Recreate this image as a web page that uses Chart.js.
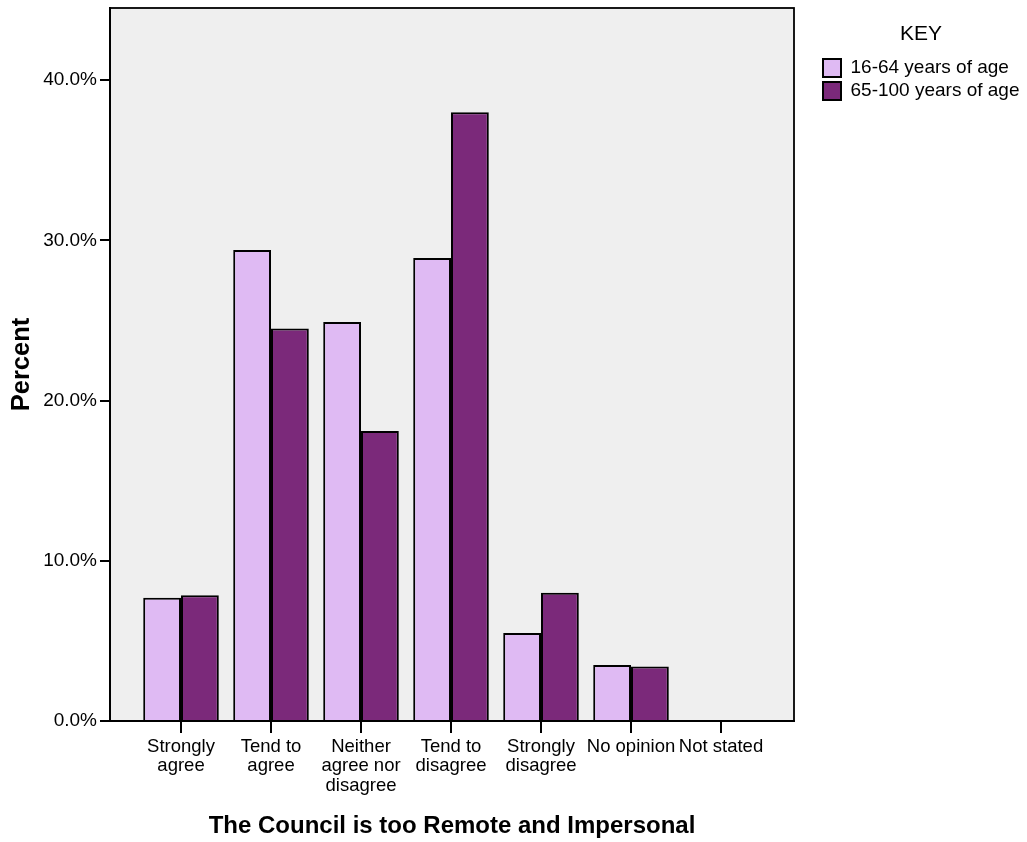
<!DOCTYPE html>
<html>
<head>
<meta charset="utf-8">
<script src="https://cdn.jsdelivr.net/npm/chart.js@4"></script>
<style>
  body { margin: 0; background: #fff; }
  #wrap { width: 1027px; height: 842px; }
</style>
</head>
<body>
<div id="wrap"><canvas id="myChart"></canvas></div>
<script>
const categories = [
    ['Strongly', 'agree'],
    ['Tend to', 'agree'],
    ['Neither', 'agree nor', 'disagree'],
    ['Tend to', 'disagree'],
    ['Strongly', 'disagree'],
    'No opinion',
    'Not stated'
];
const age16to64 = [7.7, 29.4, 24.9, 28.9, 5.5, 3.5, 0];
const age65to100 = [7.85, 24.5, 18.1, 38.0, 8.0, 3.4, 0];
const yTicks = [0, 10, 20, 30, 40];

Chart.defaults.font.family = "'Liberation Sans', Arial, sans-serif";
Chart.defaults.color = '#000';

// grey plot box with a frame, like SPSS
const plotBox = {
    id: 'plotBox',
    beforeDraw(chart) {
        const {ctx, chartArea: a} = chart;
        ctx.save();
        ctx.fillStyle = '#efefef';
        ctx.fillRect(a.left, a.top, a.right - a.left, a.bottom - a.top);
        ctx.strokeStyle = '#000';
        ctx.lineWidth = 1.8;
        ctx.strokeRect(a.left, a.top, a.right - a.left, a.bottom - a.top);
        ctx.restore();
    }
};

// push the legend a bit away from the plot
const legendShift = {
    id: 'legendShift',
    beforeInit(chart) {
        const fit = chart.legend.fit;
        chart.legend.fit = function () {
            fit.call(this);
            this.width = 233;
        };
    },
    afterLayout(chart) {
        chart.legend.left = chart.chartArea.right + 25;
        chart.legend.width = 204;
    }
};

const noPad = (scale) => {
    scale.paddingTop = 0;
    scale.paddingBottom = 0;
    scale.paddingLeft = 0;
    scale.paddingRight = 0;
};

const toPoints = (arr) => arr.map((v, i) => ({x: i, y: v}));

const cht = document.getElementById('myChart').getContext('2d');
const myChart = new Chart(cht, {
    type: 'bar',
    data: {
        datasets: [{
            label: '16-64 years of age',
            data: toPoints(age16to64),
            backgroundColor: '#dfbaf3',
            borderColor: '#000',
            borderWidth: 2
        }, {
            label: '65-100 years of age',
            data: toPoints(age65to100),
            backgroundColor: '#7b297a',
            borderColor: '#000',
            borderWidth: 2
        }]
    },
    options: {
        responsive: true,
        maintainAspectRatio: false,
        animation: false,
        devicePixelRatio: 1,
        categoryPercentage: 0.84,
        barPercentage: 1,
        layout: { padding: { top: 8, left: 0, right: 0, bottom: 0 } },
        plugins: {
            tooltip: { enabled: false },
            legend: {
                position: 'right',
                align: 'start',
                title: {
                    display: true,
                    text: 'KEY',
                    font: { size: 21 },
                    padding: { top: 15.5, bottom: 5.8 }
                },
                labels: {
                    boxWidth: 18,
                    boxHeight: 18,
                    padding: 4,
                    font: { size: 19 }
                }
            }
        },
        scales: {
            x: {
                type: 'linear',
                offset: false,
                min: -0.789,
                max: 6.811,
                afterBuildTicks: (scale) => {
                    scale.ticks = categories.map((c, i) => ({value: i}));
                },
                afterFit: (scale) => { scale.height = 121; noPad(scale); },
                ticks: {
                    autoSkip: false,
                    maxRotation: 0,
                    padding: 4.5,
                    font: { size: 18.5, lineHeight: 1.04 },
                    callback: (v) => categories[v]
                },
                grid: {
                    offset: false,
                    drawOnChartArea: false,
                    color: '#000',
                    lineWidth: 2,
                    tickLength: 12
                },
                border: { color: '#000', width: 2 },
                title: {
                    display: true,
                    text: 'The Council is too Remote and Impersonal',
                    font: { size: 24, weight: 'bold' },
                    padding: { top: 4, bottom: 1.6 }
                }
            },
            y: {
                min: 0,
                max: 44.5,
                afterBuildTicks: (scale) => {
                    scale.ticks = yTicks.map((v) => ({value: v}));
                },
                afterFit: (scale) => { scale.width = 110; noPad(scale); },
                ticks: {
                    padding: 3,
                    font: { size: 19 },
                    callback: (v) => v.toFixed(1) + '%'
                },
                grid: {
                    drawOnChartArea: false,
                    color: '#000',
                    lineWidth: 2,
                    tickLength: 10
                },
                border: { color: '#000', width: 2 },
                title: {
                    display: true,
                    text: 'Percent',
                    font: { size: 25.5, weight: 'bold' },
                    padding: { top: 7, bottom: 4 }
                }
            }
        }
    },
    plugins: [plotBox, legendShift]
});
</script>
</body>
</html>
